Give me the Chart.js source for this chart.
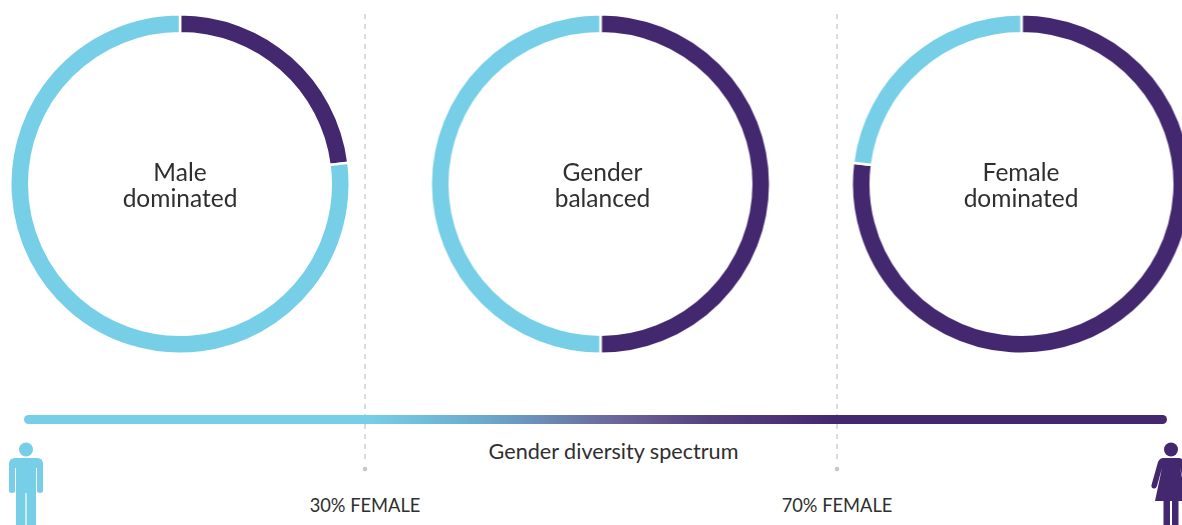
<!DOCTYPE html>
<html><head><meta charset="utf-8">
<script src="https://cdn.jsdelivr.net/npm/chart.js@4"></script>
<style>
html,body{margin:0;padding:0;background:#fff;width:1182px;height:525px;overflow:hidden}
#stage{position:relative;width:1182px;height:525px;overflow:hidden;font-family:Lato,sans-serif;color:#2f2f2f}
canvas{position:absolute}
.t{position:absolute;text-align:center;white-space:nowrap;transform:translateX(-50%)}
.c{font-size:24.5px;line-height:26px}
svg{position:absolute;left:0;top:0}
#bar{position:absolute;left:24px;top:414.7px;width:1143px;height:9.6px;border-radius:5px;
background:linear-gradient(90deg,#76cfe7 0%,#76cfe7 30%,#6ba9cb 40.5%,#6c6599 52%,#56417f 60%,#43286f 71%,#43286f 100%)}
</style></head><body>
<div id="stage">
<svg width="1182" height="525">
<g stroke="#cfcfcf" stroke-width="1.5" stroke-dasharray="5 5" fill="none">
<line x1="365" y1="14" x2="365" y2="463"/><line x1="837" y1="14" x2="837" y2="463"/>
</g>
<circle cx="365" cy="469" r="2.3" fill="#c8c8c8"/><circle cx="837" cy="469" r="2.3" fill="#c8c8c8"/>
<g fill="#76cfe7">
<circle cx="26" cy="449.5" r="7"/>
<path d="M15 458H37Q43 458 43 464V490.5Q43 493 40 493Q37 493 37 490.5V468H36V525H26.6V493H25.4V525H16V468H15V490.5Q15 493 12 493Q9 493 9 490.5V464Q9 458 15 458Z"/>
</g>
<g fill="#43286f">
<circle cx="1171" cy="449.5" r="7"/>
<path d="M1163 458H1179Q1182 458 1184 462L1190 485Q1190.5 488 1188 488.5Q1186 489 1185 486L1180 468L1187 501H1178.5V525H1172V501H1170V525H1163.500V501H1155L1162 468L1157 486Q1156 489 1153.500 488.500Q1151 488 1151.500 485L1158 462Q1160 458 1163 458Z"/>
</g>
</svg>
<div id="bar"></div>
<canvas id="d1" width="342" height="342" style="left:9px;top:13px;width:342px;height:342px"></canvas>
<canvas id="d2" width="342" height="342" style="left:430px;top:13px;width:342px;height:342px;transform:translateX(-0.5px)"></canvas>
<canvas id="d3" width="342" height="342" style="left:851px;top:13px;width:342px;height:342px;transform:translateX(-0.5px)"></canvas>
<div class="t c" style="left:180px;top:158.500px">Male<br>dominated</div>
<div class="t c" style="left:602.500px;top:158.500px">Gender<br>balanced</div>
<div class="t c" style="left:1021px;top:158.500px">Female<br>dominated</div>
<div class="t" style="left:613.500px;top:439px;font-size:21.6px;line-height:24px">Gender diversity spectrum</div>
<div class="t" style="left:365px;top:494px;font-size:18.3px;line-height:22px">30% FEMALE</div>
<div class="t" style="left:837px;top:494px;font-size:18.3px;line-height:22px">70% FEMALE</div>
</div>
<script>
const categories = ["Female", "Male"];
const maleDominated = [23, 77];
const genderBalanced = [50, 50];
const femaleDominated = [77, 23];
const sliceColors = ["#43286f", "#76cfe7"];
function donut(id, values){
  new Chart(document.getElementById(id), {
    type: "doughnut",
    data: { labels: categories, datasets: [{ data: values, backgroundColor: sliceColors, borderColor: "#ffffff", borderWidth: 2.5, hoverOffset: 0 }] },
    options: { responsive: false, animation: false, cutout: "88.8%", layout: { padding: 0 },
      plugins: { legend: { display: false }, tooltip: { enabled: false } } }
  });
}
donut("d1", maleDominated);
donut("d2", genderBalanced);
donut("d3", femaleDominated);
</script>
</body></html>
